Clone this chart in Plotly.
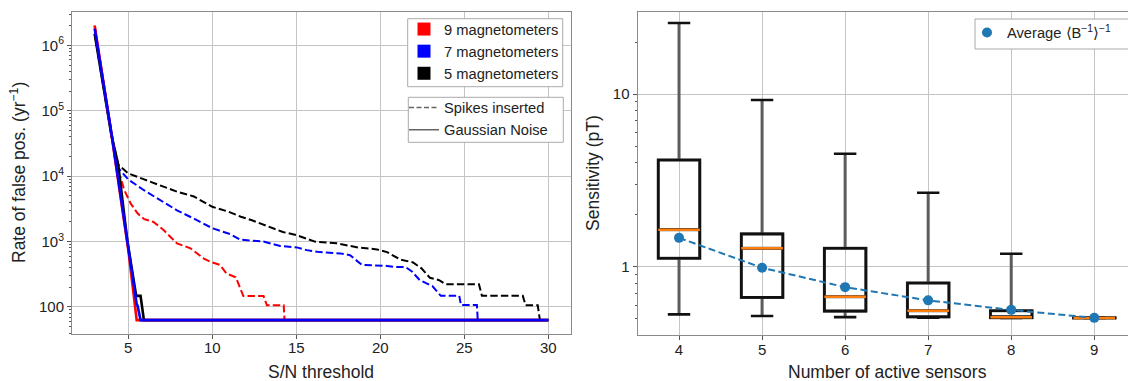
import plotly.graph_objects as go

# ---------------- Left panel data: rate of false positives vs S/N threshold ----------------
# Gaussian noise (solid)
g9_x = [3, 3.5, 4, 4.5, 5, 5.25, 5.5, 30]
g9_y = [2.0e6, 3.1e5, 4.4e4, 5.6e3, 7.5e2, 2.2e2, 63, 63]
g7_x = [3, 3.5, 4, 4.5, 5, 5.3, 5.5, 5.55, 5.73, 30]
g7_y = [1.8e6, 3.0e5, 4.5e4, 6.0e3, 8.0e2, 2.4e2, 1.1e2, 1.05e2, 63, 63]
g5_x = [3, 3.5, 4, 4.4, 4.65, 4.95, 5.45, 5.5, 5.73, 5.93, 30]
g5_y = [1.5e6, 2.6e5, 4.2e4, 1.5e4, 4.8e3, 1.0e3, 1.6e2, 1.48e2, 1.48e2, 63, 63]

# Spikes inserted (dashed)
s9_x = [3, 3.5, 4, 4.35, 4.55, 4.75, 5.15, 5.55, 5.95, 6.5, 7.1, 7.9, 8.7, 9.5, 9.9,
        10.45, 10.85, 11.4, 11.85, 13.05, 13.25, 14.25, 14.3, 30]
s9_y = [2.0e6, 3.1e5, 4.4e4, 1.05e4, 9.5e3, 6.2e3, 3.8e3, 2.7e3, 2.2e3, 2.0e3, 1.5e3, 9.4e2,
        7.9e2, 5.5e2, 4.9e2, 4.4e2, 3.25e2, 2.85e2, 1.47e2, 1.47e2, 1.06e2, 1.06e2, 63, 63]
s7_x = [3, 3.5, 4, 4.3, 4.44, 5.0, 5.93, 6.92, 7.9, 8.9, 10.0, 11.07, 11.66, 13.05, 14.04,
        15.03, 15.62, 16.4, 17.6, 18.2, 18.9, 20.4, 20.8, 21.5, 21.9, 22.35, 23.1, 23.6,
        24.7, 24.8, 25.75, 25.8, 30]
s7_y = [1.8e6, 3.0e5, 4.5e4, 1.6e4, 1.3e4, 8.9e3, 6.1e3, 4.3e3, 3.0e3, 2.25e3, 1.6e3, 1.3e3,
        1.07e3, 1.0e3, 8.55e2, 8.15e2, 7.4e2, 6.9e2, 6.6e2, 6.2e2, 4.4e2, 4.25e2, 4.1e2,
        4.1e2, 3.45e2, 2.57e2, 2.09e2, 1.48e2, 1.48e2, 1.07e2, 1.07e2, 63, 63]
s5_x = [3, 3.5, 4, 4.4, 5.0, 5.9, 6.9, 7.9, 8.9, 9.5, 10.0, 10.9, 11.7, 12.4, 13.45, 14.2,
        15.0, 16.1, 17.4, 18.7, 19.8, 20.4, 21.2, 21.95, 22.45, 22.95, 23.5, 23.9, 25.87,
        26.05, 28.48, 28.65, 29.37, 29.5, 30]
s5_y = [1.5e6, 2.6e5, 4.2e4, 1.5e4, 1.1e4, 9.0e3, 7.2e3, 5.8e3, 4.9e3, 4.0e3, 3.4e3, 2.9e3,
        2.4e3, 2.1e3, 1.65e3, 1.4e3, 1.26e3, 1.0e3, 9.4e2, 8.1e2, 7.6e2, 6.9e2, 5.3e2, 4.8e2,
        3.9e2, 2.8e2, 2.57e2, 2.23e2, 2.23e2, 1.48e2, 1.48e2, 1.06e2, 1.06e2, 63, 63]

left_xticks = [5, 10, 15, 20, 25, 30]
left_yticks = [100, 1e3, 1e4, 1e5, 1e6]
left_yticktext = ["100", "10<sup>3</sup>", "10<sup>4</sup>", "10<sup>5</sup>", "10<sup>6</sup>"]

mag_names = ["9 magnetometers", "7 magnetometers", "5 magnetometers"]
mag_colors = ["#ff0000", "#0000ff", "#000000"]

# ---------------- Right panel data: sensitivity vs number of active sensors ----------------
sensors = [4, 5, 6, 7, 8, 9]
q_low = [0.53, 0.519, 0.511, 0.507, 0.505, 0.505]
q1 = [1.12, 0.665, 0.554, 0.513, 0.507, 0.505]
med = [1.64, 1.28, 0.67, 0.556, 0.511, 0.505]
q3 = [4.15, 1.55, 1.28, 0.805, 0.556, 0.507]
q_high = [25.8, 9.23, 4.51, 2.68, 1.19, 0.507]
avg = [1.47, 0.987, 0.762, 0.639, 0.563, 0.506]
right_yticks = [1, 10]
right_yticktext = ["1", "10"]

FONT = "Liberation Sans, Arial, sans-serif"
GRID = "#c4c4c4"
SPINE = "#8a8a8a"
DASH = "7.4px,3.2px"

fig = go.Figure()

# dashed (spikes inserted)
for xs, ys, c in [(s9_x, s9_y, mag_colors[0]), (s7_x, s7_y, mag_colors[1]), (s5_x, s5_y, mag_colors[2])]:
    fig.add_trace(go.Scatter(x=xs, y=ys, mode="lines", line=dict(color=c, width=2, dash=DASH),
                             showlegend=False, xaxis="x", yaxis="y"))
# solid (gaussian noise)
for xs, ys, c in [(g5_x, g5_y, mag_colors[2]), (g9_x, g9_y, mag_colors[0]), (g7_x, g7_y, mag_colors[1])]:
    fig.add_trace(go.Scatter(x=xs, y=ys, mode="lines", line=dict(color=c, width=2.6),
                             showlegend=False, xaxis="x", yaxis="y"))

# legend entries: colour patches
for n, c in zip(mag_names, mag_colors):
    fig.add_trace(go.Scatter(x=[None], y=[None], mode="markers", name=n,
                             marker=dict(symbol="square", size=13, color=c),
                             legend="legend", xaxis="x", yaxis="y"))
# legend entries: line styles
fig.add_trace(go.Scatter(x=[None], y=[None], mode="lines", name="Spikes inserted",
                         line=dict(color="#666", width=1.5, dash="5px,2.5px"),
                         legend="legend2", xaxis="x", yaxis="y"))
fig.add_trace(go.Scatter(x=[None], y=[None], mode="lines", name="Gaussian Noise",
                         line=dict(color="#666", width=1.5),
                         legend="legend2", xaxis="x", yaxis="y"))

box_common = dict(x=sensors, boxpoints=False, fillcolor="rgba(0,0,0,0)", showlegend=False,
                  xaxis="x2", yaxis="y2", hoverinfo="skip")
# whiskers (grey)
fig.add_trace(go.Box(q1=q1, median=med, q3=q3, lowerfence=q_low, upperfence=q_high,
                     width=0.5, whiskerwidth=0, line=dict(color="#5c5c5c", width=3),
                     **box_common))
# boxes (black)
fig.add_trace(go.Box(q1=q1, median=med, q3=q3, lowerfence=q1, upperfence=q3,
                     width=0.5, whiskerwidth=0, line=dict(color="#111", width=2.6),
                     **box_common))
# whisker caps (black)
for v in (q_low, q_high):
    fig.add_trace(go.Box(q1=v, median=v, q3=v, lowerfence=v, upperfence=v,
                         width=0.27, whiskerwidth=0, line=dict(color="#111", width=2.6),
                         **box_common))
# medians (orange)
fig.add_trace(go.Box(q1=med, median=med, q3=med, lowerfence=med, upperfence=med,
                     width=0.5, whiskerwidth=0, line=dict(color="#ff7f0e", width=2.5),
                     **box_common))
fig.add_trace(go.Scatter(x=sensors, y=avg, mode="lines",
                         line=dict(color="#1f77b4", width=2, dash="7px,3.5px"),
                         showlegend=False, xaxis="x2", yaxis="y2"))
fig.add_trace(go.Scatter(x=sensors, y=avg, mode="markers",
                         marker=dict(color="#1f77b4", size=10),
                         name="Average ⟨B<sup>−1</sup>⟩<sup>−1</sup>",
                         legend="legend3", xaxis="x2", yaxis="y2"))

W, H = 1128, 381
def px(x):
    return x / W
def py(y):
    return (H - y) / H

left_minor = [k * 10 ** n for n in range(1, 7) for k in range(2, 10)]
right_minor = [k * 10 ** n for n in range(-1, 2) for k in range(2, 10)]

axis_common = dict(showline=True, linecolor=SPINE, linewidth=1, mirror=True,
                   showgrid=True, gridcolor=GRID, gridwidth=1,
                   ticks="outside", ticklen=4, tickwidth=1, tickcolor="#555",
                   tickfont=dict(family=FONT, size=15, color="#222"),
                   zeroline=False, automargin=False)

legend_common = dict(xanchor="left", yanchor="top", borderwidth=0, bgcolor="rgba(0,0,0,0)",
                     font=dict(family=FONT, size=14.7, color="#222"))

# legend frames (drawn as shapes so their size matches the reference)
frames = [(407.7, 18.7, 562.7, 86.7), (408.3, 97.3, 563.3, 142.3), (975, 19, 1140, 49)]
shapes = [dict(type="rect", xref="paper", yref="paper", x0=px(a), x1=px(c), y0=py(d), y1=py(b),
               line=dict(color="#aaaaaa", width=1), fillcolor="white", layer="above")
          for a, b, c, d in frames]

fig.update_layout(
    width=W, height=H,
    margin=dict(l=0, r=0, t=0, b=0),
    paper_bgcolor="white", plot_bgcolor="white",
    template="none",
    font=dict(family=FONT, size=15, color="#222"),
    boxmode="overlay",
    xaxis=dict(domain=[px(72), px(571)], range=[1.65, 31.35], tickvals=left_xticks,
               anchor="y", ticklabelstandoff=-4, **axis_common),
    yaxis=dict(domain=[py(334), py(12)], type="log", range=[1.587, 6.51],
               tickvals=left_yticks, ticktext=left_yticktext, anchor="x",
               minor=dict(tickvals=left_minor, ticks="outside", ticklen=2, tickcolor="#555",
                          showgrid=False),
               **axis_common),
    xaxis2=dict(domain=[px(637.5), 1.0], range=[3.5, 9.406], tickvals=sensors,
                anchor="y2", ticklabelstandoff=-3, **axis_common),
    yaxis2=dict(domain=[py(335), py(12)], type="log", range=[-0.395, 1.475],
                tickvals=right_yticks, ticktext=right_yticktext, anchor="x2",
                minor=dict(tickvals=right_minor, ticks="outside", ticklen=2, tickcolor="#555",
                           showgrid=False),
                **{**axis_common, "mirror": False}),
    legend=dict(x=px(404), y=py(13), **legend_common),
    legend2=dict(x=px(404), y=py(91.5), **legend_common),
    legend3=dict(x=px(967), y=py(16.5), **legend_common),
    shapes=shapes,
    annotations=[
        dict(text="S/N threshold", x=px(321), y=py(372), xref="paper", yref="paper",
             xanchor="center", yanchor="middle",
             showarrow=False, font=dict(family=FONT, size=17.5, color="#222")),
        dict(text="Rate of false pos. (yr<sup>−1</sup>)", x=px(18), y=py(173), xref="paper",
             yref="paper", xanchor="center", yanchor="middle", showarrow=False, textangle=-90,
             font=dict(family=FONT, size=17.5, color="#222")),
        dict(text="Number of active sensors", x=px(887), y=py(372), xref="paper", yref="paper",
             xanchor="center", yanchor="middle",
             showarrow=False, font=dict(family=FONT, size=17.5, color="#222")),
        dict(text="Sensitivity (pT)", x=px(593), y=py(173), xref="paper", yref="paper",
             xanchor="center", yanchor="middle",
             showarrow=False, textangle=-90, font=dict(family=FONT, size=17.5, color="#222")),
    ],
)

fig.write_html("out.html")
